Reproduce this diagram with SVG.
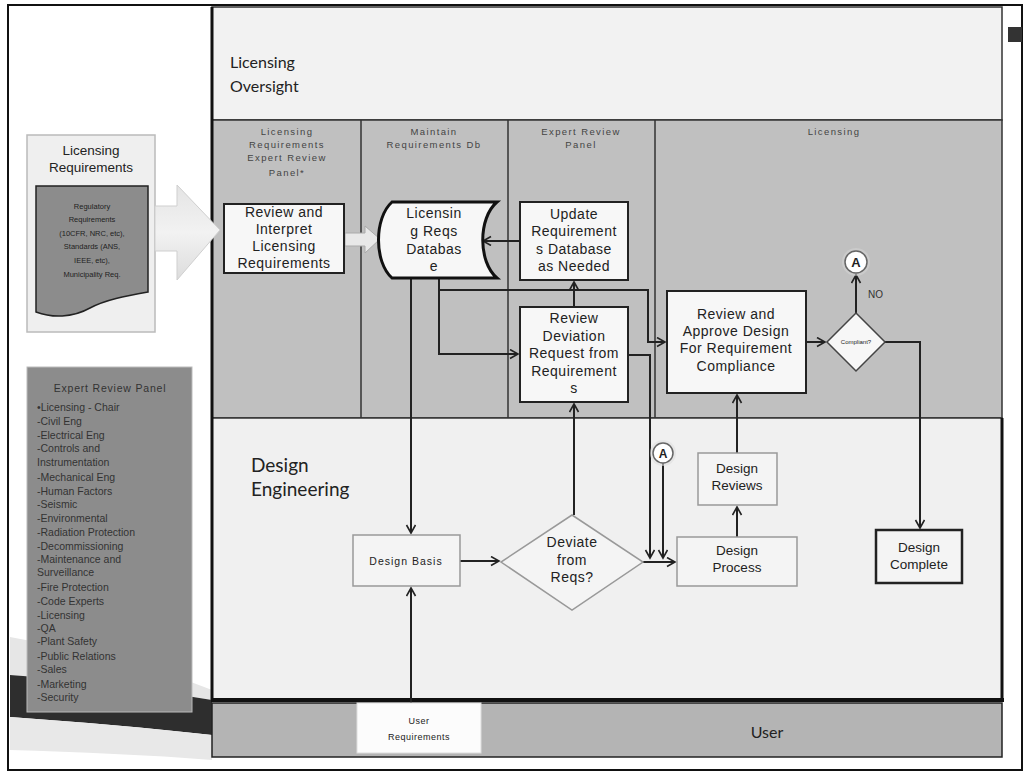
<svg xmlns="http://www.w3.org/2000/svg" width="1026" height="774" viewBox="0 0 1026 774">
<defs>
<style>
.lane{stroke:#333;stroke-width:1.5}
.box{fill:#f7f7f7;stroke:#222;stroke-width:2}
.gbox{fill:#f4f4f4;stroke:#999;stroke-width:1.5}
.t{font-family:"Liberation Sans",Arial,sans-serif;fill:#222;text-anchor:middle}
.t15{font-size:14px;letter-spacing:0.5px}
.hdr{font-family:"Liberation Sans",Arial,sans-serif;font-size:9.5px;fill:#444;text-anchor:middle;letter-spacing:1.4px}
.lanet{font-family:Lato,"Liberation Sans",sans-serif;fill:#222}
.lst{font-family:"Liberation Sans",Arial,sans-serif;font-size:10.5px;fill:#333}
.conn{stroke:#222;stroke-width:2;fill:none}
.circ{fill:#fff;stroke:#666;stroke-width:1.5}
</style>
<marker id="arr" markerUnits="userSpaceOnUse" markerWidth="12" markerHeight="12" refX="9" refY="5" orient="auto">
<path d="M1,0.5 L9,5 L1,9.5" fill="none" stroke="#222" stroke-width="1.6"/>
</marker>
<linearGradient id="ag" x1="0" y1="0" x2="0" y2="1">
<stop offset="0" stop-color="#e4e4e4"/><stop offset="0.5" stop-color="#f2f2f2"/><stop offset="1" stop-color="#dcdcdc"/>
</linearGradient>
</defs>
<rect x="0" y="0" width="1026" height="774" fill="#fff"/>
<!-- background swoosh -->
<g id="swoosh">
<path d="M10,637 C80,650 150,665 212,690 L212,700 C150,690 80,680 10,675 Z" fill="#e6e6e6"/>
<path d="M10,675 C80,680 150,690 212,700 L212,735 C150,728 80,722 10,717 Z" fill="#2e2e2e"/>
<path d="M10,717 C80,722 150,728 212,735 L212,760 C150,755 80,752 10,750 Z" fill="#e8e8e8"/>
</g>
<rect x="8" y="5" width="1014" height="765" fill="none" stroke="#111" stroke-width="2"/>
<rect x="1008" y="27" width="14" height="15" fill="#333"/>
<!-- lanes -->
<g id="lanes">
<rect x="212" y="7" width="790" height="113" fill="#f2f2f2" class="lane"/>
<rect x="212" y="120" width="790" height="298" fill="#c0c0c0" class="lane"/>
<line x1="361" y1="120" x2="361" y2="418" class="lane"/>
<line x1="508" y1="120" x2="508" y2="418" class="lane"/>
<line x1="655" y1="120" x2="655" y2="418" class="lane"/>
<rect x="212" y="418" width="790" height="282" fill="#f0f0f0" class="lane"/>
<line x1="1002" y1="418" x2="1002" y2="700" stroke="#111" stroke-width="3"/>
<line x1="212" y1="7" x2="212" y2="700" stroke="#111" stroke-width="3"/>
<line x1="211" y1="700" x2="1004" y2="700" stroke="#111" stroke-width="4"/>
<rect x="212" y="703" width="790" height="54" fill="#b4b4b4" stroke="#222" stroke-width="1.5"/>
<text class="lanet" x="230" y="68" font-size="16">Licensing</text>
<text class="lanet" x="230" y="92" font-size="16">Oversight</text>
<text class="lanet" x="251" y="472" font-size="19">Design</text>
<text class="lanet" x="251" y="496" font-size="19">Engineering</text>
<text class="lanet" x="767" y="738" font-size="16" text-anchor="middle">User</text>
<text class="hdr" x="287" y="135">Licensing</text>
<text class="hdr" x="287" y="148">Requirements</text>
<text class="hdr" x="287" y="161">Expert Review</text>
<text class="hdr" x="287" y="176">Panel*</text>
<text class="hdr" x="434" y="135">Maintain</text>
<text class="hdr" x="434" y="148">Requirements Db</text>
<text class="hdr" x="581" y="135">Expert Review</text>
<text class="hdr" x="581" y="148">Panel</text>
<text class="hdr" x="834" y="135">Licensing</text>
</g>
<!-- left panels -->
<g id="licensing-requirements">
<rect x="27" y="135" width="128" height="197" fill="#efefef" stroke="#bbb" stroke-width="1.5"/>
<text class="t" x="91" y="155" font-size="13.5" fill="#333">Licensing</text>
<text class="t" x="91" y="172" font-size="13.5" fill="#333">Requirements</text>
<path d="M36,186 H148 V292 C125,296 105,300 90,308 C72,318 52,318 36,312 Z" fill="#8c8c8c" stroke="#222" stroke-width="1.5"/>
<g class="t" font-size="7.5" fill="#333">
<text x="92" y="209">Regulatory</text>
<text x="92" y="222">Requirements</text>
<text x="92" y="236">(10CFR, NRC, etc),</text>
<text x="92" y="249">Standards (ANS,</text>
<text x="92" y="263">IEEE, etc),</text>
<text x="92" y="277">Municipality Req.</text>
</g>
</g>
<g id="big-arrow">
<path d="M155,206 H177 V185 L220,230 L177,280 V251 H155 Z" fill="url(#ag)" stroke="#cfcfcf" stroke-width="1"/>
</g>
<g id="expert-review-panel">
<rect x="27" y="367" width="165" height="345" fill="#8c8c8c" stroke="#bbb" stroke-width="1"/>
<text class="lst" x="110" y="392" text-anchor="middle" letter-spacing="0.8">Expert Review Panel</text>
<text class="lst" x="37" y="411" font-size="14">•Licensing - Chair</text>
<text class="lst" x="37" y="425">-Civil Eng</text>
<text class="lst" x="37" y="439">-Electrical Eng</text>
<text class="lst" x="37" y="452">-Controls and</text>
<text class="lst" x="37" y="466">Instrumentation</text>
<text class="lst" x="37" y="481">-Mechanical Eng</text>
<text class="lst" x="37" y="495">-Human Factors</text>
<text class="lst" x="37" y="508">-Seismic</text>
<text class="lst" x="37" y="522">-Environmental</text>
<text class="lst" x="37" y="536">-Radiation Protection</text>
<text class="lst" x="37" y="550">-Decommissioning</text>
<text class="lst" x="37" y="563">-Maintenance and</text>
<text class="lst" x="37" y="576">Surveillance</text>
<text class="lst" x="37" y="591">-Fire Protection</text>
<text class="lst" x="37" y="605">-Code Experts</text>
<text class="lst" x="37" y="619">-Licensing</text>
<text class="lst" x="37" y="632">-QA</text>
<text class="lst" x="37" y="645">-Plant Safety</text>
<text class="lst" x="37" y="660">-Public Relations</text>
<text class="lst" x="37" y="673">-Sales</text>
<text class="lst" x="37" y="688">-Marketing</text>
<text class="lst" x="37" y="701">-Security</text>
</g>
<!-- connectors -->
<g id="connectors">
<path d="M345,233 H365 V226 L380,239 L365,253 V246 H345 Z" fill="#e8e8e8" stroke="#aaa" stroke-width="1"/>
<path class="conn" d="M411,278 V533" marker-end="url(#arr)"/>
<path class="conn" d="M411,703 V588" marker-end="url(#arr)"/>
<path class="conn" d="M439,278 V354 H518" marker-end="url(#arr)"/>
<path class="conn" d="M439,290 H648 V342 H665" marker-end="url(#arr)"/>
<path class="conn" d="M520,241 H483" marker-end="url(#arr)"/>
<path class="conn" d="M806,342 H825" marker-end="url(#arr)"/>
<path class="conn" d="M856,313 V275" marker-end="url(#arr)"/>
<path class="conn" d="M885,342 H920 V528" marker-end="url(#arr)"/>
<path class="conn" d="M574,307 V282" marker-end="url(#arr)"/>
<path class="conn" d="M574,515 V404" marker-end="url(#arr)"/>
<path class="conn" d="M460,561 H499" marker-end="url(#arr)"/>
<path class="conn" d="M643,562 H675" marker-end="url(#arr)"/>
<path class="conn" d="M628,355 H650 V558" marker-end="url(#arr)"/>
<path class="conn" d="M663,463 V558" marker-end="url(#arr)"/>
<path class="conn" d="M737,537 V507" marker-end="url(#arr)"/>
<path class="conn" d="M737,453 V395" marker-end="url(#arr)"/>
<text x="868" y="298" font-family="Liberation Sans,Arial,sans-serif" font-size="10" fill="#333">NO</text>
</g>
<!-- nodes -->
<g id="review-interpret">
<rect x="224" y="204" width="120" height="69" class="box"/>
<g class="t t15"><text x="284" y="217">Review and</text><text x="284" y="234">Interpret</text><text x="284" y="251">Licensing</text><text x="284" y="268">Requirements</text></g>
</g>
<g id="database">
<path d="M392,202 H497 C478,218 478,262 497,278 H392 C374,262 374,218 392,202 Z" fill="#f7f7f7" stroke="#111" stroke-width="3"/>
<g class="t t15"><text x="434" y="218">Licensin</text><text x="434" y="236">g Reqs</text><text x="434" y="254">Databas</text><text x="434" y="271">e</text></g>
</g>
<g id="update-db">
<rect x="520" y="202" width="108" height="78" class="box"/>
<g class="t t15"><text x="574" y="219">Update</text><text x="574" y="236">Requirement</text><text x="574" y="254">s Database</text><text x="574" y="271">as Needed</text></g>
</g>
<g id="review-deviation">
<rect x="520" y="307" width="108" height="95" class="box"/>
<g class="t t15"><text x="574" y="323">Review</text><text x="574" y="341">Deviation</text><text x="574" y="358">Request from</text><text x="574" y="376">Requirement</text><text x="574" y="393">s</text></g>
</g>
<g id="review-approve">
<rect x="667" y="291" width="139" height="102" class="box"/>
<g class="t t15"><text x="736" y="319">Review  and</text><text x="736" y="336">Approve Design</text><text x="736" y="353">For Requirement</text><text x="736" y="371">Compliance</text></g>
</g>
<g id="compliant">
<path d="M856,313 L885,342 L856,371 L827,342 Z" fill="#f7f7f7" stroke="#444" stroke-width="1.5"/>
<text class="t" x="856" y="344" font-size="6">Compliant?</text>
</g>
<g id="connector-a-top">
<circle cx="856" cy="262" r="14" fill="#d6d6d6" opacity="0.5"/>
<circle cx="856" cy="262" r="11" class="circ"/>
<text class="t" x="856" y="267" font-size="13" font-weight="bold">A</text>
</g>
<g id="connector-a-bottom">
<circle cx="663" cy="453" r="13" fill="#e0e0e0" opacity="0.6"/>
<circle cx="663" cy="453" r="10" class="circ"/>
<text class="t" x="663" y="458" font-size="12" font-weight="bold">A</text>
</g>
<g id="design-basis">
<rect x="353" y="535" width="107" height="51" class="gbox"/>
<text class="t" x="406" y="565" font-size="10.5" letter-spacing="1">Design Basis</text>
</g>
<g id="deviate">
<path d="M572,515 L643,562 L572,610 L501,562 Z" fill="#f4f4f4" stroke="#999" stroke-width="1.5"/>
<g class="t t15"><text x="572" y="547">Deviate</text><text x="572" y="565">from</text><text x="572" y="582">Reqs?</text></g>
</g>
<g id="design-reviews">
<rect x="698" y="453" width="79" height="52" class="gbox"/>
<g class="t" font-size="13.5"><text x="737" y="473">Design</text><text x="737" y="490">Reviews</text></g>
</g>
<g id="design-process">
<rect x="677" y="537" width="120" height="49" class="gbox"/>
<g class="t" font-size="13.5"><text x="737" y="555">Design</text><text x="737" y="572">Process</text></g>
</g>
<g id="design-complete">
<rect x="876" y="530" width="86" height="53" fill="#f4f4f4" stroke="#222" stroke-width="2.5"/>
<g class="t" font-size="13.5"><text x="919" y="552">Design</text><text x="919" y="569">Complete</text></g>
</g>
<g id="user-requirements">
<rect x="357" y="703" width="124" height="50" fill="#fcfcfc" stroke="#ddd" stroke-width="1"/>
<g class="t" font-size="9" letter-spacing="0.5"><text x="419" y="724">User</text><text x="419" y="740">Requirements</text></g>
</g>
</svg>
